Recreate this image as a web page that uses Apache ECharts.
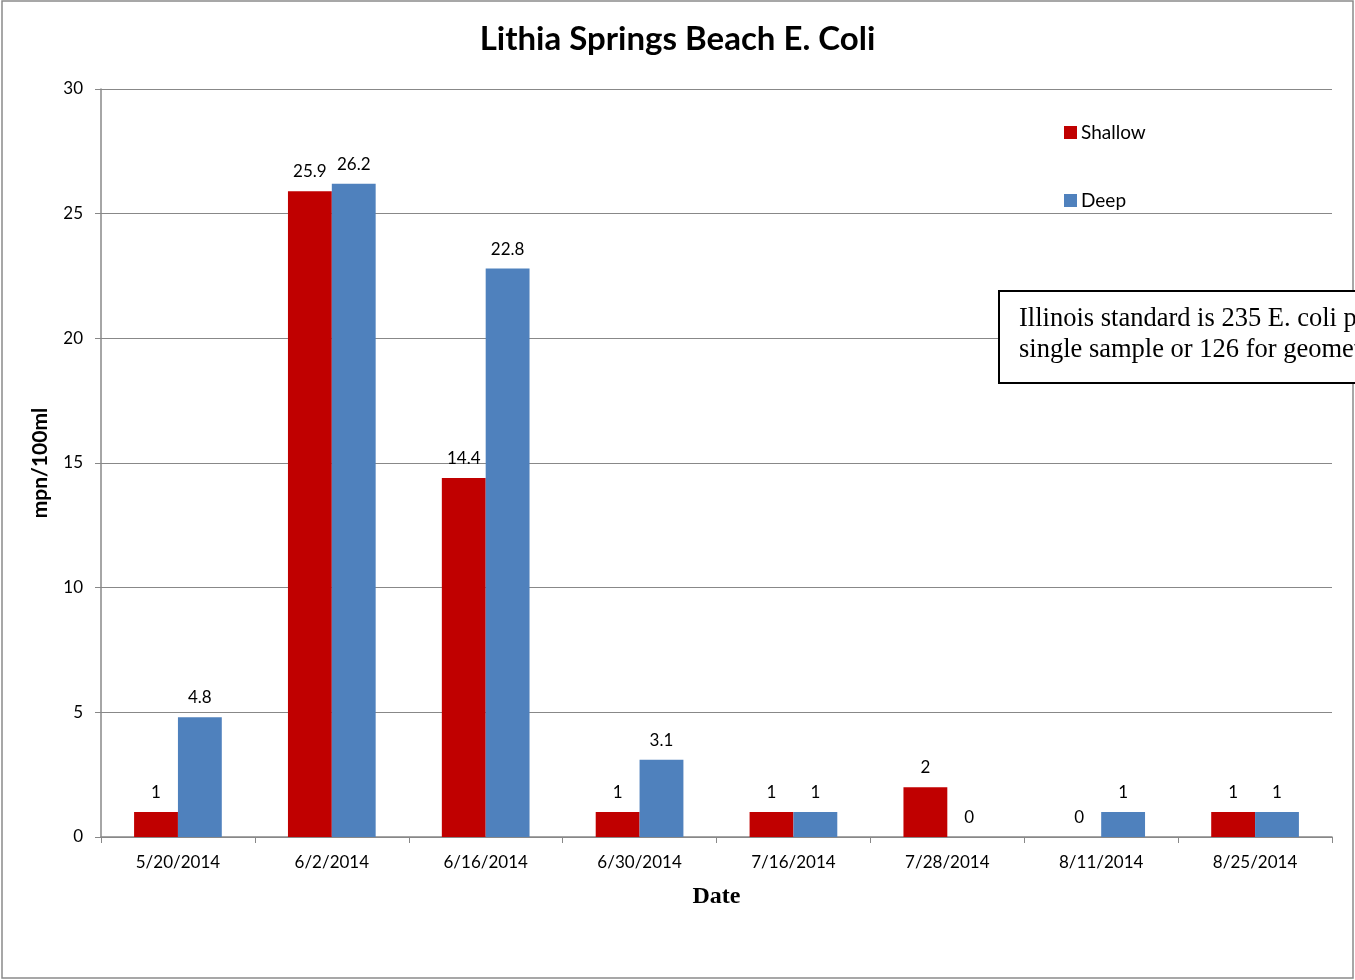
<!DOCTYPE html>
<html><head><meta charset="utf-8">
<script src="https://cdn.jsdelivr.net/npm/echarts@6/dist/echarts.min.js"></script>
<style>html,body{margin:0;padding:0;background:#fff}#c{width:1355px;height:980px}</style>
</head><body><div id="c"></div>
<script>
const categories = ['5/20/2014','6/2/2014','6/16/2014','6/30/2014','7/16/2014','7/28/2014','8/11/2014','8/25/2014'];
const shallow = [1, 25.9, 14.4, 1, 1, 2, 0, 1];
const deep = [4.8, 26.2, 22.8, 3.1, 1, 0, 1, 1];
const yTicks = {min: 0, max: 30, interval: 5};
const noteLines = ['Illinois standard is 235 E. coli per 100 ml for a', 'single sample or 126 for geometric mean'];

const chart = echarts.init(document.getElementById('c'));
const axisGray = '#888888';
const lbl = {show: true, position: 'top', fontFamily: 'Lato', fontSize: 17, color: '#000', distance: 11};
chart.setOption({
  animation: false,
  backgroundColor: '#fff',
  title: {text: 'Lithia Springs Beach E. Coli', left: 'center', top: 18,
    textStyle: {fontFamily: 'Lato', fontWeight: 'bold', fontSize: 33, color: '#000'}},
  legend: {orient: 'vertical', left: 1059, top: 118, itemWidth: 13, itemHeight: 13, itemGap: 49,
    icon: 'rect', textStyle: {fontFamily: 'Lato', fontSize: 19, color: '#000', padding: [0,0,0,-1]},
    data: ['Shallow', 'Deep']},
  grid: {left: 101, right: 23, top: 89, bottom: 143},
  xAxis: {type: 'category', data: categories,
    name: 'Date', nameLocation: 'middle', nameGap: 48,
    nameTextStyle: {fontFamily: 'Liberation Serif', fontWeight: 'bold', fontSize: 24, color: '#000'},
    axisLine: {lineStyle: {color: axisGray, width: 1.5}},
    axisTick: {show: true, length: 6, lineStyle: {color: axisGray}},
    axisLabel: {fontFamily: 'Lato', fontSize: 17, color: '#000', margin: 17}},
  yAxis: {type: 'value', min: yTicks.min, max: yTicks.max, interval: yTicks.interval,
    name: 'mpn/100ml', nameLocation: 'middle', nameGap: 50,
    nameTextStyle: {fontFamily: 'Lato', fontWeight: 'bold', fontSize: 21, color: '#000'},
    axisLine: {show: true, lineStyle: {color: axisGray, width: 1.5}},
    axisTick: {show: true, length: 6, lineStyle: {color: axisGray}},
    axisLabel: {fontFamily: 'Lato', fontSize: 17, color: '#000', margin: 18},
    splitLine: {lineStyle: {color: axisGray, width: 1.2}}},
  series: [
    {name: 'Shallow', type: 'bar', data: shallow, barGap: '0%', barCategoryGap: '43%',
     itemStyle: {color: '#C00000'}, label: lbl},
    {name: 'Deep', type: 'bar', data: deep,
     itemStyle: {color: '#4F81BD'}, label: lbl}
  ],
  graphic: [
    {type: 'rect', shape: {x: 2, y: 1, width: 1351, height: 977},
     style: {fill: 'none', stroke: '#8a8a8a', lineWidth: 1.5}, silent: true, z: 100},
    {type: 'rect', shape: {x: 999, y: 291, width: 400, height: 92},
     style: {fill: '#fff', stroke: '#000', lineWidth: 2}, z: 101},
    {type: 'text', x: 1019, y: 304, z: 102,
     style: {text: noteLines.join('\n'), fontFamily: 'Liberation Serif', fontSize: 26.5,
       lineHeight: 31, fill: '#000'}}
  ]
});
</script></body></html>
